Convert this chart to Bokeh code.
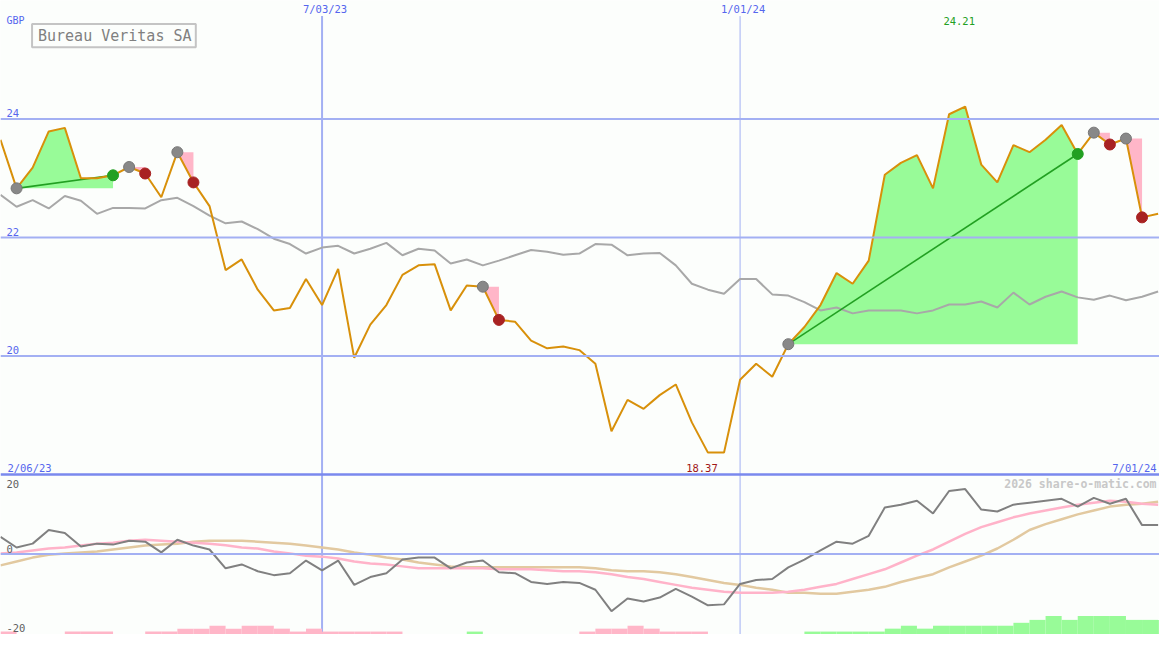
import pandas as pd
from bokeh.plotting import figure
from bokeh.models import Range1d, Span
from bokeh.core.properties import value
from bokeh.embed import file_html
from bokeh.resources import INLINE

# ---------------- data ----------------
dates = pd.date_range("2023-02-13", periods=73, freq="7D")

price = [23.65, 22.83, 23.18, 23.79, 23.85, 23.00, 23.00, 23.05, 23.19, 23.08,
         22.68, 23.44, 22.93, 22.53, 21.45, 21.63, 21.12, 20.77, 20.81, 21.30,
         20.86, 21.47, 19.97, 20.53, 20.86, 21.37, 21.53, 21.55, 20.77, 21.19,
         21.17, 20.61, 20.58, 20.26, 20.13, 20.16, 20.10, 19.87, 18.73, 19.26,
         19.11, 19.34, 19.52, 18.88, 18.37, 18.37, 19.60, 19.87, 19.65, 20.20,
         20.49, 20.86, 21.40, 21.22, 21.61, 23.06, 23.26, 23.39, 22.83, 24.08,
         24.21, 23.23, 22.93, 23.56, 23.44, 23.65, 23.90, 23.41, 23.77, 23.57,
         23.67, 22.34, 22.40]

ma = [22.72, 22.52, 22.63, 22.49, 22.70, 22.62, 22.40, 22.50, 22.50, 22.49,
      22.63, 22.67, 22.53, 22.37, 22.24, 22.27, 22.14, 21.98, 21.89, 21.73,
      21.83, 21.86, 21.73, 21.81, 21.91, 21.70, 21.81, 21.78, 21.56, 21.63,
      21.53, 21.61, 21.70, 21.79, 21.76, 21.71, 21.73, 21.89, 21.88, 21.70,
      21.73, 21.74, 21.53, 21.22, 21.12, 21.05, 21.30, 21.30, 21.04, 21.02,
      20.91, 20.77, 20.82, 20.72, 20.77, 20.77, 20.77, 20.72, 20.77, 20.87,
      20.87, 20.92, 20.82, 21.07, 20.87, 21.00, 21.09, 20.99, 20.95, 21.02,
      20.94, 21.00, 21.09]

osc = [5.3, 2.0, 3.2, 7.4, 6.5, 2.3, 3.2, 2.9, 4.1, 3.8,
       0.5, 4.4, 2.6, 1.4, -4.4, -3.2, -5.3, -6.5, -5.9, -2.0,
       -5.0, -2.0, -9.5, -7.1, -5.9, -1.7, -1.1, -1.1, -4.4, -2.6,
       -2.0, -5.6, -5.9, -8.6, -9.2, -8.6, -8.9, -11.0, -17.6, -13.7,
       -14.6, -13.4, -10.7, -13.1, -15.8, -15.5, -9.2, -8.0, -7.7, -4.1,
       -1.7, 1.1, 3.8, 3.2, 5.6, 14.3, 15.2, 16.4, 12.5, 19.4,
       20.0, 13.7, 13.1, 15.2, 15.8, 16.4, 17.0, 14.6, 17.3, 15.5,
       17.0, 8.9, 8.9]

osc_fast = [0.2, 0.5, 1.1, 1.7, 2.0, 2.6, 3.2, 3.5, 4.1, 4.4,
            4.1, 3.8, 3.5, 3.2, 2.7, 2.0, 1.7, 0.8, 0.2, -0.5,
            -0.8, -1.4, -2.3, -2.9, -3.2, -3.8, -4.4, -4.4, -4.4, -4.4,
            -4.4, -4.7, -4.7, -4.7, -5.0, -5.3, -5.3, -5.6, -6.2, -7.1,
            -7.7, -8.6, -9.5, -10.4, -11.0, -11.6, -11.9, -11.9, -11.9, -11.6,
            -11.0, -10.1, -9.2, -7.7, -6.2, -4.7, -2.6, -0.5, 1.4, 3.8,
            6.2, 8.3, 9.8, 11.3, 12.5, 13.4, 14.3, 15.2, 15.8, 16.4,
            16.1, 15.5, 15.2]

osc_slow = [-3.5, -2.3, -1.1, -0.2, 0.2, 0.5, 0.8, 1.4, 2.0, 2.6,
            2.9, 3.2, 3.8, 4.1, 4.1, 4.1, 3.8, 3.5, 3.2, 2.6,
            2.0, 1.4, 0.5, -0.2, -1.1, -1.7, -2.6, -3.2, -3.8, -4.1,
            -4.1, -4.1, -4.1, -4.1, -4.1, -4.1, -4.1, -4.4, -5.0, -5.3,
            -5.3, -5.6, -6.2, -7.1, -8.0, -8.9, -9.5, -10.4, -11.0, -11.9,
            -11.9, -12.2, -12.2, -11.6, -11.0, -10.1, -8.6, -7.4, -6.2, -4.1,
            -2.3, -0.5, 1.7, 4.4, 7.4, 9.2, 10.7, 12.2, 13.4, 14.6,
            15.2, 15.5, 16.1]

hist = [-0.9, 0, 0, 0, -0.9, -0.9, -0.9, 0, 0, -0.9,
        -0.9, -1.8, -1.8, -2.7, -1.8, -2.7, -2.7, -1.8, -0.9, -1.8,
        -0.9, -0.9, -0.9, -0.9, -0.9, 0, 0, 0, 0, 0.9,
        0, 0, 0, 0, 0, 0, -0.9, -1.8, -1.8, -2.7,
        -1.8, -0.9, -0.9, -0.9, 0, 0, 0, 0, 0, 0,
        0.9, 0.9, 0.9, 0.9, 0.9, 1.8, 2.7, 1.8, 2.7, 2.7,
        2.7, 2.7, 2.7, 3.6, 4.5, 5.7, 4.5, 5.7, 5.7, 5.7,
        4.5, 4.5, 4.5]

entry_idx = [1, 8, 11, 30, 49, 68, 70]
exit_idx = [7, 9, 12, 31, 67, 69, 71]

vline_dates = ["2023-07-03", "2024-01-01"]
vline_labels = ["7/03/23", "1/01/24"]
price_ticks = [20, 22, 24]
osc_ticks = [20, 0, -20]
start_label = "2/06/23"
end_label = "7/01/24"
title = "Bureau Veritas SA"
currency = "GBP"
watermark = "2026 share-o-matic.com"

# ---------------- layout helpers (reference pixel -> data) ----------------
W, H = 1159, 634
REF_W, REF_H = 1175, 650
PX_WEEK = 16.3
PRICE_TOP, PX_PRICE = 26.0, 60.75
OSC_ZERO_PX, PX_OSC = 567.5, 3.33


def xpx(px):
    return (dates[0] + pd.Timedelta(days=7 * px / PX_WEEK)).to_pydatetime()


def ypx(py):
    return PRICE_TOP - py / PX_PRICE


def opx(py):
    return (OSC_ZERO_PX - py) / PX_OSC


BG = "#fcfefc"
BLUE_TXT = "#5566ee"
GRID = "#a3b0f3"
FONT = value("DejaVu Sans Mono")

p = figure(width=W, height=H, x_axis_type="datetime",
           x_range=Range1d(xpx(0), xpx(REF_W)),
           y_range=Range1d(ypx(REF_H), ypx(0)),
           x_axis_location=None, y_axis_location=None,
           output_backend="svg", toolbar_location=None,
           min_border=0, background_fill_color=BG, border_fill_color=BG,
           outline_line_color=None)
p.extra_y_ranges = {"osc": Range1d(opx(REF_H), opx(0))}
p.xgrid.visible = False
p.ygrid.visible = False

# grid lines
for t in price_ticks:
    p.add_layout(Span(location=t, dimension="width", line_color=GRID, line_width=2))
p.add_layout(Span(location=0, dimension="width", y_range_name="osc",
                  line_color=GRID, line_width=2))
vd = [pd.Timestamp(d).to_pydatetime() for d in vline_dates]
p.segment(x0=vd, x1=vd, y0=[ypx(16)] * 2, y1=[ypx(REF_H)] * 2,
          line_color=GRID, line_width=[2, 1])
# panel divider
p.add_layout(Span(location=18, dimension="width", line_color="#7a89ee", line_width=2.5))

# trade fills
for e, x in zip(entry_idx, exit_idx):
    ep = price[e]
    seg = price[e:x + 1]
    win = price[x] >= ep
    if win:
        y2 = [max(v, ep) for v in seg]
        col = "#98fb98"
    else:
        y2 = [min(v, ep) for v in seg]
        col = "#ffb6c8"
    p.varea(x=dates[e:x + 1], y1=[ep] * len(seg), y2=y2, fill_color=col)

# moving average
p.line(dates, ma, line_color="#a8a8a8", line_width=2)

# trend lines for winning trades
for e, x in zip(entry_idx, exit_idx):
    if price[x] >= price[e]:
        p.line([dates[e], dates[x]], [price[e], price[x]], line_color="#22a022", line_width=1.6)

# price
p.line(dates, price, line_color="#d8900a", line_width=2)

# markers
p.scatter([dates[i] for i in entry_idx], [price[i] for i in entry_idx],
          size=11, fill_color="#888888", line_color="#777777")
exit_col = ["#22a022" if price[x] >= price[e] else "#a82222" for e, x in zip(entry_idx, exit_idx)]
p.scatter([dates[i] for i in exit_idx], [price[i] for i in exit_idx],
          size=11, fill_color=exit_col, line_color=exit_col)

# oscillator panel
bot = opx(REF_H)
hl, hr, ht, hc = [], [], [], []
for d, h in zip(dates, hist):
    if h != 0:
        hl.append(d.to_pydatetime())
        hr.append((d + pd.Timedelta(days=7)).to_pydatetime())
        ht.append(bot + abs(h))
        hc.append("#98fb98" if h > 0 else "#ffb6c8")
p.quad(left=hl, right=hr, bottom=[bot] * len(hl), top=ht, fill_color=hc,
       line_color=None, y_range_name="osc")
p.line(dates, osc_slow, line_color="#e2c9a0", line_width=2.5, y_range_name="osc")
p.line(dates, osc_fast, line_color="#ffb3c9", line_width=2.5, y_range_name="osc")
p.line(dates, osc, line_color="#808080", line_width=2, y_range_name="osc")

# ---------------- texts ----------------
p.text(x=[xpx(6)], y=[ypx(20)], text=[currency], text_font=FONT,
       text_font_size=value("10px"), text_color=BLUE_TXT, text_baseline="middle")
p.text(x=[xpx(6)] * 3, y=price_ticks, text=[str(t) for t in price_ticks], y_offset=-6,
       text_font=FONT, text_font_size=value("10.5px"), text_color=BLUE_TXT,
       text_baseline="middle")
p.text(x=vd, y=[ypx(9)] * 2, text=vline_labels, x_offset=3, text_font=FONT,
       text_font_size=value("10.5px"), text_color=BLUE_TXT, text_align="center",
       text_baseline="middle")
p.text(x=[xpx(7)], y=[ypx(479)], text=[start_label], text_font=FONT,
       text_font_size=value("10.5px"), text_color=BLUE_TXT, text_baseline="middle")
p.text(x=[xpx(1172)], y=[ypx(479)], text=[end_label], text_font=FONT,
       text_font_size=value("10.5px"), text_color=BLUE_TXT, text_align="right",
       text_baseline="middle")

imax = price.index(max(price))
imin = price.index(min(price))
p.text(x=[dates[imax]], y=[ypx(21)], text=[f"{max(price):.2f}"], x_offset=-6,
       text_font=FONT, text_font_size=value("10.5px"), text_color="#22a022",
       text_align="center", text_baseline="middle")
p.text(x=[dates[imin]], y=[ypx(479)], text=[f"{min(price):.2f}"], x_offset=-6,
       text_font=FONT, text_font_size=value("10.5px"), text_color="#a01818",
       text_align="center", text_baseline="middle")

p.text(x=[xpx(1172)], y=[ypx(496)], text=[watermark], text_font=FONT,
       text_font_size=value("11.5px"), text_font_style="bold", text_color="#c8c8c8",
       text_align="right", text_baseline="middle")

p.text(x=[xpx(6)] * 3, y=[opx(496), opx(562), opx(643)], text=[str(t) for t in osc_ticks],
       text_font=FONT, text_font_size=value("10.5px"), text_color="#606060",
       text_baseline="middle", y_range_name="osc")

# title box
p.quad(left=[xpx(32)], right=[xpx(198)], bottom=[ypx(48)], top=[ypx(24)],
       fill_color=BG, line_color="#c4c4c4", line_width=2)
p.text(x=[xpx(38)], y=[ypx(36)], text=[title], text_font=FONT,
       text_font_size=value("15px"), text_color="#808080", text_baseline="middle")

open("out.html", "w").write(file_html(p, INLINE))
